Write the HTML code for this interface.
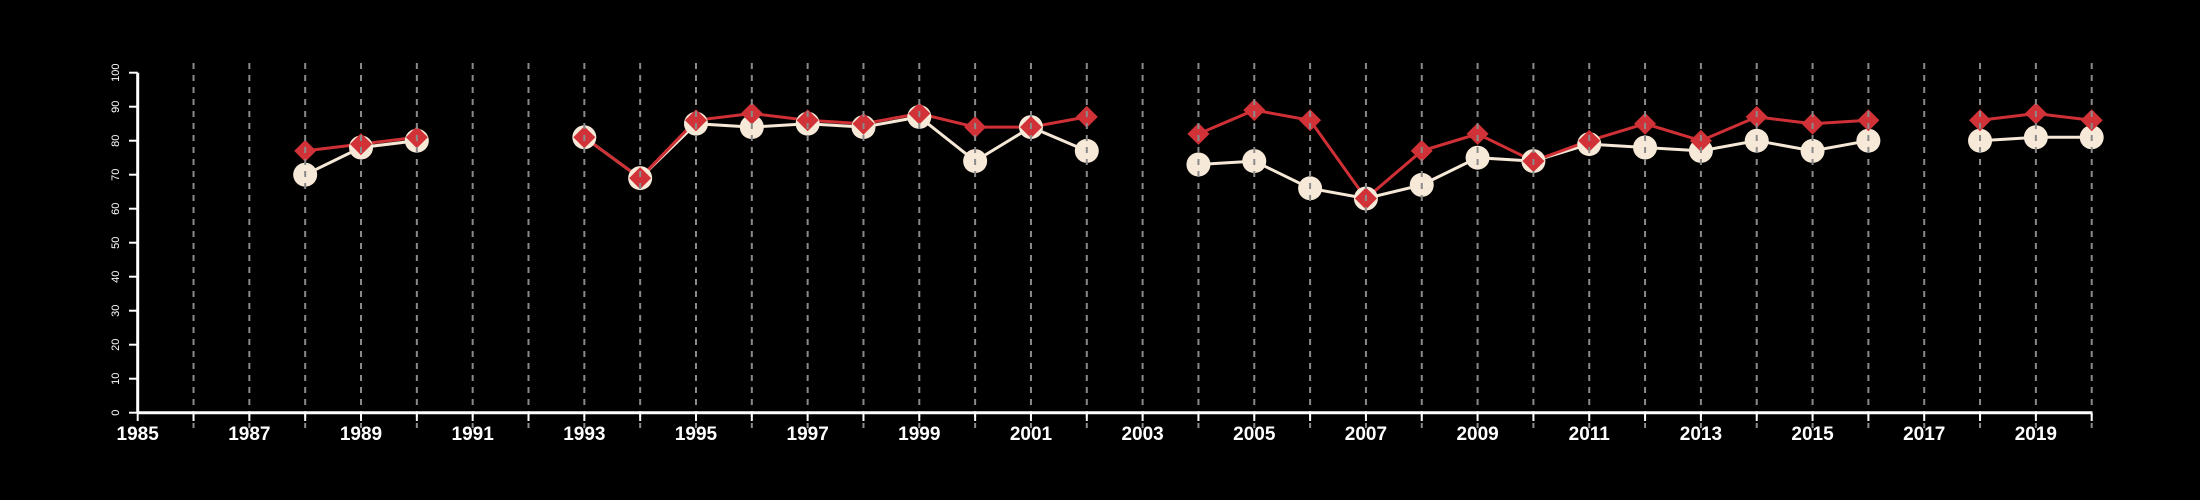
<!DOCTYPE html>
<html><head><meta charset="utf-8"><style>
html,body{margin:0;padding:0;background:#000;}
svg{display:block;}
</style></head><body>
<svg id="chart" width="2200" height="500" viewBox="0 0 2200 500" xmlns="http://www.w3.org/2000/svg" style="font-family:'Liberation Sans',sans-serif;background:#000">
<g id="series"></g>
<g id="grid"></g>
<g id="axes"></g>
</svg>
<script>
const years = [1988,1989,1990,1991,1992,1993,1994,1995,1996,1997,1998,1999,2000,2001,2002,2003,2004,2005,2006,2007,2008,2009,2010,2011,2012,2013,2014,2015,2016,2017,2018,2019,2020];
const whiteSeries = [70,78,80,null,null,81,69,85,84,85,84,87,74,84,77,null,73,74,66,63,67,75,74,79,78,77,80,77,80,null,80,81,81];
const redSeries = [77,79,81,null,null,81,69,86,88,86,85,88,84,84,87,null,82,89,86,63,77,82,74,80,85,80,87,85,86,null,86,88,86];
const xTicks = [1985,1987,1989,1991,1993,1995,1997,1999,2001,2003,2005,2007,2009,2011,2013,2015,2017,2019];
const yTicks = [0,10,20,30,40,50,60,70,80,90,100];

const NS='http://www.w3.org/2000/svg';
const X0=137.7, X1=2091.7, Y0=412.7, Y1=72.7;
const xMin=1985, xMax=2020;
function xs(v){return X0+(v-xMin)/(xMax-xMin)*(X1-X0);}
function ys(v){return Y0-(v/100)*(Y0-Y1);}
function mk(tag,attrs,parent){const e=document.createElementNS(NS,tag);for(const k in attrs)e.setAttribute(k,attrs[k]);parent.appendChild(e);return e;}

const grid=document.getElementById('grid');
for(let yr=xMin+1; yr<=xMax; yr++){
  const l=mk('line',{x1:xs(yr),x2:xs(yr),y1:63,y2:428,stroke:'#8a8a8a','stroke-width':2,'stroke-dasharray':'6,6'},grid);
  
  
}

const axes=document.getElementById('axes');
const xa=mk('line',{x1:X0,x2:X1,y1:Y0,y2:Y0,stroke:'#fff','stroke-width':3},axes);


for(let yr=xMin; yr<=xMax; yr++){
  const t=mk('line',{x1:xs(yr),x2:xs(yr),y1:Y0,y2:421,stroke:'#fff','stroke-width':2},axes);
  
  
}
xTicks.forEach(v=>{
  const t=mk('text',{x:xs(v),y:440,'text-anchor':'middle',fill:'#fff','font-size':19,'font-weight':'bold'},axes);
  t.textContent=v;
  
  
});
const ya=mk('line',{x1:X0,x2:X0,y1:Y1,y2:Y0,stroke:'#fff','stroke-width':3},axes);


yTicks.forEach(v=>{
  const t=mk('line',{x1:129,x2:X0,y1:ys(v),y2:ys(v),stroke:'#fff','stroke-width':2},axes);
  
  
  const l=mk('text',{x:0,y:0,transform:'translate(119,'+ys(v)+') rotate(-90)','text-anchor':'middle',fill:'#fff','font-size':11},axes);
  l.textContent=v;
  
  
});

const series=document.getElementById('series');
function drawLine(vals,color,name){
  let d='',pen=false;
  vals.forEach((v,i)=>{
    if(v==null){pen=false;return;}
    d+=(pen?'L':'M')+xs(years[i])+','+ys(v)+' ';pen=true;
  });
  const p=mk('path',{d:d,fill:'none',stroke:color,'stroke-width':3},series);
  
  
}
drawLine(whiteSeries,'#f5e8d6','white-series-line');
drawLine(redSeries,'#cf3036','red-series-line');
whiteSeries.forEach((v,i)=>{
  if(v==null)return;
  const c=mk('circle',{cx:xs(years[i]),cy:ys(v),r:12,fill:'#f7e9d7'},series);
  
  
});
redSeries.forEach((v,i)=>{
  if(v==null)return;
  const x=xs(years[i]),y=ys(v),s=11;
  const c=mk('polygon',{points:`${x},${y-s} ${x+s},${y} ${x},${y+s} ${x-s},${y}`,fill:'#d03237'},series);
  
  
});
</script>
</body></html>
